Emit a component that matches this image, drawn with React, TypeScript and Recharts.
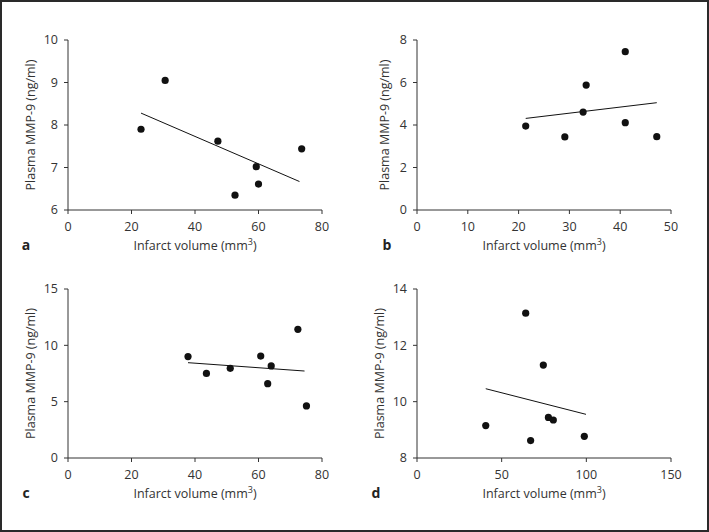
import { ScatterChart, Scatter, XAxis, YAxis } from 'recharts';

// panel a
const aVolume = [23, 30.6, 47.2, 52.6, 59.3, 60, 73.6];
const aMmp9 = [7.9, 9.05, 7.62, 6.35, 7.02, 6.61, 7.44];
const aFitX = [23, 72.9];
const aFitY = [8.28, 6.67];
const aXTicks = [0, 20, 40, 60, 80];
const aYTicks = [6, 7, 8, 9, 10];

// panel b
const bVolume = [21.4, 29.1, 32.7, 33.3, 41.0, 41.0, 47.2];
const bMmp9 = [3.95, 3.44, 4.61, 5.88, 7.45, 4.11, 3.45];
const bFitX = [21.4, 47.2];
const bFitY = [4.31, 5.05];
const bXTicks = [0, 10, 20, 30, 40, 50];
const bYTicks = [0, 2, 4, 6, 8];

// panel c
const cVolume = [37.8, 43.6, 51.1, 60.7, 62.9, 64.0, 72.4, 75.1];
const cMmp9 = [9.0, 7.51, 7.96, 9.05, 6.6, 8.17, 11.42, 4.62];
const cFitX = [37.8, 74.5];
const cFitY = [8.46, 7.72];
const cXTicks = [0, 20, 40, 60, 80];
const cYTicks = [0, 5, 10, 15];

// panel d
const dVolume = [40.6, 64.2, 67.1, 74.6, 77.6, 80.5, 98.8];
const dMmp9 = [9.15, 13.14, 8.62, 11.3, 9.44, 9.35, 8.77];
const dFitX = [40.6, 99.8];
const dFitY = [10.46, 9.55];
const dXTicks = [0, 50, 100, 150];
const dYTicks = [8, 10, 12, 14];

const TEXT = '#333';
const FONT = '"Open Sans", "Noto Sans", sans-serif';

const zip = (xs: number[], ys: number[]) => xs.map((x, i) => ({ x, y: ys[i] }));

const Dot = (p: any) => <circle cx={p.cx} cy={p.cy} r={3.6} fill="#111" />;

interface PanelProps {
  letter: string;
  letterX: number;
  left: number; top: number;
  volume: number[]; mmp9: number[];
  fitX: number[]; fitY: number[];
  xTicks: number[]; yTicks: number[];
  yWidth: number; yLabelOffset: number;
  margin: { top: number; right: number; bottom: number; left: number };
}

function Panel(p: PanelProps) {
  const points = zip(p.volume, p.mmp9);
  const fit = zip(p.fitX, p.fitY);
  const xLabel = (props: any) => {
    const vb = props.viewBox;
    const cx = vb.x + vb.width / 2;
    const y = vb.y + 40;
    return (
      <g>
        <text x={cx} y={y} textAnchor="middle" fill={TEXT} fontSize={12.5} fontFamily={FONT}>
          <tspan>Infarct volume (mm</tspan>
          <tspan dy={-5} fontSize={9}>3</tspan>
          <tspan dy={5}>)</tspan>
        </text>
        <text x={p.letterX} y={y} textAnchor="middle" fill="#222" fontSize={14} fontWeight="bold" fontFamily={FONT}>
          {p.letter}
        </text>
      </g>
    );
  };
  const yLabel = (props: any) => {
    const vb = props.viewBox;
    const x = vb.x + vb.width - p.yLabelOffset;
    const cy = vb.y + vb.height / 2;
    return (
      <text x={x} y={cy} textAnchor="middle" dominantBaseline="central" fill={TEXT} fontSize={12.5}
        fontFamily={FONT} transform={`rotate(-90 ${x} ${cy})`}>
        Plasma MMP-9 (ng/ml)
      </text>
    );
  };
  return (
    <div style={{ position: 'absolute', left: p.left, top: p.top }}>
      <ScatterChart width={354} height={266} margin={p.margin}>
        <XAxis
          type="number" dataKey="x" domain={[p.xTicks[0], p.xTicks[p.xTicks.length - 1]]} ticks={p.xTicks}
          height={30} tickSize={4} tickMargin={8} interval={0}
          axisLine={{ stroke: TEXT }} tickLine={{ stroke: TEXT }}
          tick={{ fill: TEXT, fontSize: 12.5, fontFamily: FONT }}
          label={xLabel}
        />
        <YAxis
          type="number" dataKey="y" domain={[p.yTicks[0], p.yTicks[p.yTicks.length - 1]]} ticks={p.yTicks}
          width={p.yWidth} tickSize={4} tickMargin={6} interval={0}
          axisLine={{ stroke: TEXT }} tickLine={{ stroke: TEXT }}
          tick={{ fill: TEXT, fontSize: 12.5, fontFamily: FONT }}
          label={yLabel}
        />
        <Scatter data={fit} line={{ stroke: '#111', strokeWidth: 1 }} shape={() => null} isAnimationActive={false} />
        <Scatter data={points} shape={Dot} isAnimationActive={false} />
      </ScatterChart>
    </div>
  );
}

export default function App() {
  return (
    <div style={{
      position: 'absolute', left: 0, top: 0, width: 709, height: 532, background: '#fff',
      boxSizing: 'border-box', border: '2px solid #2a2a2a',
    }}>
      <div style={{ position: 'absolute', left: -2, top: -2 }}>
        <Panel letter="a" letterX={26} left={0} top={0} volume={aVolume} mmp9={aMmp9} fitX={aFitX} fitY={aFitY}
          xTicks={aXTicks} yTicks={aYTicks} yWidth={68} yLabelOffset={38}
          margin={{ top: 40, right: 32, bottom: 26, left: 0 }} />
        <Panel letter="b" letterX={33} left={354} top={0} volume={bVolume} mmp9={bMmp9} fitX={bFitX} fitY={bFitY}
          xTicks={bXTicks} yTicks={bYTicks} yWidth={63} yLabelOffset={33}
          margin={{ top: 40, right: 37, bottom: 26, left: 0 }} />
        <Panel letter="c" letterX={26} left={0} top={266} volume={cVolume} mmp9={cMmp9} fitX={cFitX} fitY={cFitY}
          xTicks={cXTicks} yTicks={cYTicks} yWidth={68} yLabelOffset={38}
          margin={{ top: 23, right: 32, bottom: 44, left: 0 }} />
        <Panel letter="d" letterX={22} left={354} top={266} volume={dVolume} mmp9={dMmp9} fitX={dFitX} fitY={dFitY}
          xTicks={dXTicks} yTicks={dYTicks} yWidth={63} yLabelOffset={38}
          margin={{ top: 23, right: 37, bottom: 44, left: 0 }} />
      </div>
    </div>
  );
}
